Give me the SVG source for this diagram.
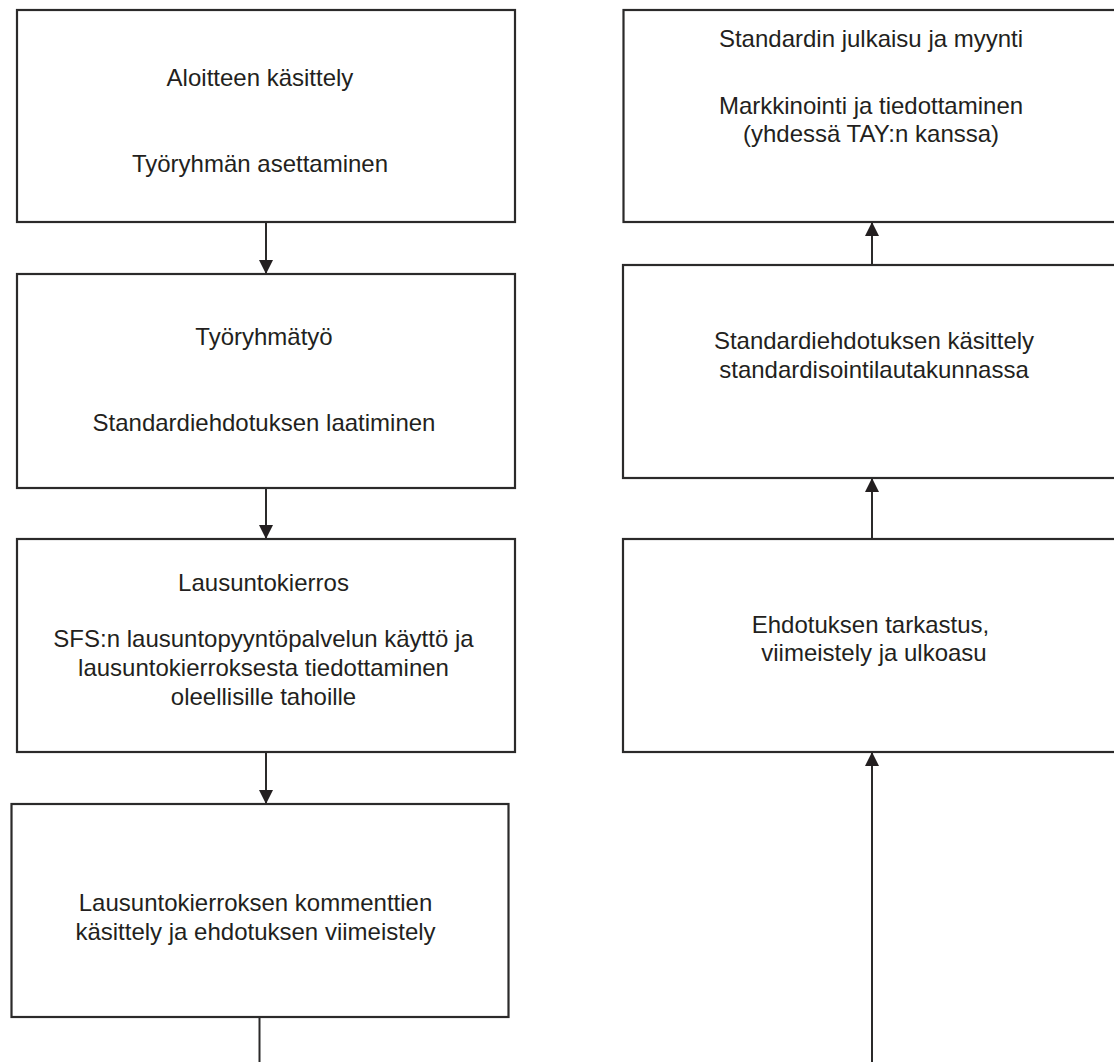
<svg xmlns="http://www.w3.org/2000/svg" width="1114" height="1062" viewBox="0 0 1114 1062">
<style>
.box{fill:#ffffff;stroke:#2b2a2a;stroke-width:2.2}
.lbl{font-family:"Liberation Sans",Arial,sans-serif;font-size:24px;fill:#231f20;text-anchor:middle}
.con{stroke:#2b2a2a;stroke-width:2;fill:none}
</style>
<defs>
<marker id="ah" markerUnits="userSpaceOnUse" markerWidth="14" markerHeight="14" refX="14" refY="7" orient="auto">
<path d="M0,0 L14,7 L0,14 z" fill="#231f20"/>
</marker>
</defs>
<rect width="1114" height="1062" fill="#ffffff"/>
<g id="connectors">
<line class="con" x1="266" y1="222" x2="266" y2="274" marker-end="url(#ah)"/>
<line class="con" x1="266" y1="488" x2="266" y2="539" marker-end="url(#ah)"/>
<line class="con" x1="266" y1="752" x2="266" y2="804" marker-end="url(#ah)"/>
<line class="con" x1="259.5" y1="1017" x2="259.5" y2="1062"/>
<line class="con" x1="872" y1="265" x2="872" y2="222" marker-end="url(#ah)"/>
<line class="con" x1="872" y1="539" x2="872" y2="478" marker-end="url(#ah)"/>
<line class="con" x1="872" y1="1062" x2="872" y2="752" marker-end="url(#ah)"/>
</g>
<g id="n1">
<rect class="box" x="17" y="10" width="498" height="212"/>
<text class="lbl" x="260" y="86">Aloitteen käsittely</text>
<text class="lbl" x="260" y="172">Työryhmän asettaminen</text>
</g>
<g id="n2">
<rect class="box" x="17" y="274" width="498" height="214"/>
<text class="lbl" x="264" y="345">Työryhmätyö</text>
<text class="lbl" x="264" y="431">Standardiehdotuksen laatiminen</text>
</g>
<g id="n3">
<rect class="box" x="17" y="539" width="498" height="213"/>
<text class="lbl" x="263.5" y="591">Lausuntokierros</text>
<text class="lbl" x="263.5" y="647">SFS:n lausuntopyyntöpalvelun käyttö ja</text>
<text class="lbl" x="263.5" y="676">lausuntokierroksesta tiedottaminen</text>
<text class="lbl" x="263.5" y="705">oleellisille tahoille</text>
</g>
<g id="n4">
<rect class="box" x="11.5" y="804" width="497" height="213"/>
<text class="lbl" x="255.5" y="911">Lausuntokierroksen kommenttien</text>
<text class="lbl" x="255.5" y="939.5">käsittely ja ehdotuksen viimeistely</text>
</g>
<g id="n5">
<rect class="box" x="623.5" y="10" width="500" height="212"/>
<text class="lbl" x="871" y="47">Standardin julkaisu ja myynti</text>
<text class="lbl" x="871" y="113.5">Markkinointi ja tiedottaminen</text>
<text class="lbl" x="871" y="142">(yhdessä TAY:n kanssa)</text>
</g>
<g id="n6">
<rect class="box" x="623" y="265" width="500" height="213"/>
<text class="lbl" x="874" y="349">Standardiehdotuksen käsittely</text>
<text class="lbl" x="874" y="378">standardisointilautakunnassa</text>
</g>
<g id="n7">
<rect class="box" x="623" y="539" width="500" height="213"/>
<text class="lbl" x="870.5" y="633">Ehdotuksen tarkastus,</text>
<text class="lbl" x="874" y="661">viimeistely ja ulkoasu</text>
</g>
</svg>
